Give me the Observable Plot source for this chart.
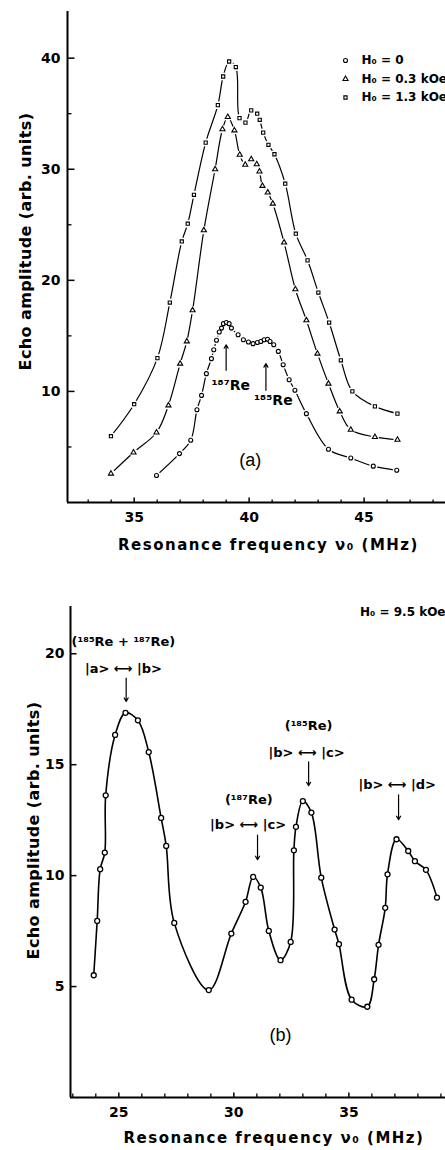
<!DOCTYPE html>
<html><head><meta charset="utf-8">
<script src="https://cdn.jsdelivr.net/npm/d3@7"></script>
<script src="https://cdn.jsdelivr.net/npm/@observablehq/plot@0.6"></script>
<style>
body{margin:0;background:#fff;}
#chart svg{display:block;}
</style></head><body><div id="chart"></div>
<script>
// ---------- Panel (a) data ----------
const seriesLabelsA = ["H\u2080 = 0", "H\u2080 = 0.3 kOe", "H\u2080 = 1.3 kOe"];
const seriesSymbolsA = ["circle", "triangle", "square"];

const freqH0 = [35.97,36.97,37.46,37.73,37.93,38.14,38.36,38.46,38.58,38.70,38.80,38.88,39.01,39.13,39.23,39.52,39.75,39.97,40.17,40.36,40.51,40.65,40.80,40.91,41.07,41.27,41.48,41.74,41.99,42.49,43.45,44.42,45.40,46.42];
const ampH0  = [2.43,4.4,5.6,8.35,9.64,11.6,12.95,13.75,14.6,15.35,15.7,16.1,16.2,16.1,15.7,15.1,14.65,14.45,14.3,14.4,14.5,14.65,14.7,14.5,14.2,13.6,12.4,11.05,10.1,8.0,4.8,4.0,3.27,2.9];

const freqH03 = [33.99,34.97,35.97,36.49,37.0,37.29,37.54,38.03,38.52,38.84,39.07,39.36,39.59,39.83,40.09,40.33,40.45,40.58,40.81,41.03,41.52,42.01,42.49,42.97,43.45,43.94,44.42,45.47,46.45];
const ampH03  = [2.6,4.5,6.3,8.74,12.5,14.5,17.3,24.5,30.0,33.6,34.7,33.5,31.3,30.4,30.9,30.45,29.8,28.5,27.9,26.9,23.4,19.2,16.4,13.4,10.7,8.2,6.55,5.9,5.65];

const freqH13 = [33.99,35.0,36.01,36.55,37.07,37.33,37.6,38.11,38.64,38.87,39.13,39.42,39.58,39.84,40.09,40.35,40.46,40.61,40.84,41.1,41.57,42.03,42.54,43.01,43.48,43.99,44.49,45.47,46.45];
const ampH13  = [5.97,8.85,13.0,18.0,23.5,25.1,27.7,32.4,35.77,38.35,39.7,39.2,34.6,34.2,35.3,35.0,34.45,33.3,32.2,31.35,28.7,24.2,21.8,18.9,16.2,12.8,10.0,8.65,8.0];

const xTicksA = [35, 40, 45];
const xMinorA = [33,34,36,37,38,39,41,42,43,44,46,47,48];
const yTicksA = [10, 20, 30, 40];
const yMinorA = [5, 15, 25, 35];

// ---------- Panel (b) data ----------
const freqB = [23.91,24.06,24.19,24.39,24.43,24.84,25.29,25.83,26.30,26.84,27.06,27.41,28.91,29.89,30.51,30.84,31.17,31.52,32.03,32.47,32.61,32.70,33.0,33.37,33.8,34.38,34.57,35.12,35.8,36.1,36.29,36.58,36.68,37.07,37.58,37.87,38.35,38.83];
const ampB  = [5.51,7.96,10.29,11.04,13.62,16.34,17.34,17.0,15.57,12.6,11.34,7.87,4.84,7.39,8.82,9.94,9.46,7.51,6.19,7.01,11.14,12.2,13.36,12.84,9.91,7.57,6.91,4.41,4.09,5.33,6.88,8.55,10.06,11.64,11.11,10.65,10.26,9.01];

const xTicksB = [25, 30, 35];
const xMinorB = [23,24,26,27,28,29,31,32,33,34,36,37,38,39];
const yTicksB = [5, 10, 15, 20];

// ---------- build rows ----------
const rowsA = [
  ...freqH0.map((f,i)=>({f, a: ampH0[i], s: seriesLabelsA[0]})),
  ...freqH03.map((f,i)=>({f, a: ampH03[i], s: seriesLabelsA[1]})),
  ...freqH13.map((f,i)=>({f, a: ampH13[i], s: seriesLabelsA[2]}))
];
const rowsB = freqB.map((f,i)=>({f, a: ampB[i]}));

// inward tick glyphs (drawn as custom dot symbols)
const tickUp = (len) => ({draw(ctx){ ctx.moveTo(0, 0); ctx.lineTo(0, -len); }});
const tickRight = (len) => ({draw(ctx){ ctx.moveTo(0, 0); ctx.lineTo(len, 0); }});

const FONT = "DejaVu Sans";
const baseStyle = {fontFamily: FONT, fontSize: "14px", fontWeight: "bold", color: "#000", background: "#fff", overflow: "visible"};
const yTitle = "Echo amplitude (arb. units)";
const xTitle = "Resonance frequency \u03bd\u2080 (MHz)";
const markerR = [2.0, 1.9, 1.8];

const xDomA = [32.1, 48.54];
const plotA = Plot.plot({
  width: 445, height: 590,
  marginLeft: 67, marginRight: 0, marginTop: 11, marginBottom: 88,
  style: baseStyle,
  x: {domain: xDomA},
  y: {domain: [0, 44.2]},
  symbol: {domain: seriesLabelsA, range: seriesSymbolsA},
  marks: [
    Plot.axisX(xTicksA, {tickSize: 0, tickPadding: 10, label: null}),
    Plot.axisY(yTicksA, {tickSize: 0, tickPadding: 7, label: null}),
    Plot.dot(xTicksA, {x: d => d, frameAnchor: "bottom", symbol: tickUp(5), stroke: "#000", strokeWidth: 1.5}),
    Plot.dot(xMinorA, {x: d => d, frameAnchor: "bottom", symbol: tickUp(3), stroke: "#000", strokeWidth: 1.3}),
    Plot.dot(yTicksA, {y: d => d, frameAnchor: "left", symbol: tickRight(7), stroke: "#000", strokeWidth: 1.5}),
    Plot.dot(yMinorA, {y: d => d, frameAnchor: "left", symbol: tickRight(4), stroke: "#000", strokeWidth: 1.3}),
    Plot.ruleX([xDomA[0]], {strokeWidth: 2}),
    Plot.ruleY([0], {strokeWidth: 2}),
    Plot.line(rowsA, {x: "f", y: "a", z: "s", curve: "catmull-rom", stroke: "#000", strokeWidth: 1.2}),
    Plot.dot(rowsA, {x: "f", y: "a", r: 4.0, fill: "#fff", stroke: null}),
    ...seriesLabelsA.map((lab, k) => Plot.dot(rowsA.filter(d => d.s === lab), {x: "f", y: "a", symbol: "s", r: markerR[k], fill: "#fff", stroke: "#000", strokeWidth: 1.1})),
    // legend
    ...seriesLabelsA.map((lab, i) => Plot.dot([lab], {frameAnchor: "top-right", dx: -100, dy: 49 + i*18.5, symbol: d => d, r: markerR[i], fill: "#fff", stroke: "#000", strokeWidth: 1.1})),
    ...seriesLabelsA.map((lab, i) => Plot.text([lab], {frameAnchor: "top-right", dx: -84, dy: 49 + i*18.5, text: d => d, textAnchor: "start", lineAnchor: "middle", fontSize: 12, fontWeight: "bold"})),
    // isotope annotations
    Plot.arrow([{x1: 39.0, y1: 11.9, x2: 39.0, y2: 14.2}, {x1: 40.73, y1: 10.1, x2: 40.73, y2: 12.5}], {x1: "x1", y1: "y1", x2: "x2", y2: "y2", headLength: 5, strokeWidth: 1.2}),
    Plot.text([{t: "\u00b9\u2078\u2077Re", x: 39.2, y: 10.5}, {t: "\u00b9\u2078\u2075Re", x: 41.05, y: 9.2}], {x: "x", y: "y", text: "t", fontSize: 14, fontWeight: "bold"}),
    Plot.text(["(a)"], {x: 40.05, y: 3.8, text: d => d, fontSize: 18, fontWeight: "normal", fontFamily: "Liberation Sans"}),
    // titles
    Plot.text([yTitle], {frameAnchor: "left", dx: -42, dy: -15.5, rotate: -90, textAnchor: "middle", lineAnchor: "middle", text: d => d, fontSize: 16, fontWeight: "bold"}),
    Plot.text([xTitle], {frameAnchor: "bottom", dx: 12, dy: 43, textAnchor: "middle", lineAnchor: "middle", text: d => d, fontSize: 15, fontWeight: "bold"})
  ]
});

const xDomB = [22.9, 39.2];
const plotB = Plot.plot({
  width: 445, height: 560,
  marginLeft: 70, marginRight: 0, marginTop: 16, marginBottom: 53,
  style: baseStyle,
  x: {domain: xDomB},
  y: {domain: [0, 22.13]},
  marks: [
    Plot.axisX(xTicksB, {tickSize: 0, tickPadding: 10, label: null}),
    Plot.axisY(yTicksB, {tickSize: 0, tickPadding: 6, label: null}),
    Plot.dot(xTicksB, {x: d => d, frameAnchor: "bottom", symbol: tickUp(5), stroke: "#000", strokeWidth: 1.5}),
    Plot.dot(xMinorB, {x: d => d, frameAnchor: "bottom", symbol: tickUp(4), stroke: "#000", strokeWidth: 1.3}),
    Plot.dot(yTicksB, {y: d => d, frameAnchor: "left", symbol: tickRight(6), stroke: "#000", strokeWidth: 1.5}),
    Plot.ruleX([xDomB[0]], {strokeWidth: 2}),
    Plot.ruleY([0], {strokeWidth: 2}),
    Plot.line(rowsB, {x: "f", y: "a", curve: "catmull-rom", stroke: "#000", strokeWidth: 1.6}),
    Plot.dot(rowsB, {x: "f", y: "a", r: 2.5, fill: "#fff", stroke: "#000", strokeWidth: 1.3}),
    Plot.text(["H\u2080 = 9.5 kOe"], {frameAnchor: "top-right", dx: 0, dy: 6, text: d => d, textAnchor: "end", lineAnchor: "middle", fontSize: 12, fontWeight: "bold"}),
    Plot.text([
      {t: "(\u00b9\u2078\u2075Re + \u00b9\u2078\u2077Re)", x: 25.2, y: 20.55},
      {t: "|a> \u27f7 |b>", x: 25.2, y: 19.3},
      {t: "(\u00b9\u2078\u2075Re)", x: 33.25, y: 16.75},
      {t: "|b> \u27f7 |c>", x: 33.16, y: 15.53},
      {t: "(\u00b9\u2078\u2077Re)", x: 30.65, y: 13.41},
      {t: "|b> \u27f7 |c>", x: 30.62, y: 12.29},
      {t: "|b> \u27f7 |d>", x: 37.1, y: 14.09}
    ], {x: "x", y: "y", text: "t", fontSize: 13, fontWeight: "bold"}),
    Plot.arrow([
      {x: 25.32, y1: 18.9, y2: 17.85},
      {x: 33.25, y1: 15.13, y2: 14.05},
      {x: 31.03, y1: 11.83, y2: 10.72},
      {x: 37.16, y1: 13.64, y2: 12.52}
    ], {x1: "x", x2: "x", y1: "y1", y2: "y2", headLength: 5, strokeWidth: 1.2}),
    Plot.text(["(b)"], {x: 32.03, y: 2.82, text: d => d, fontSize: 18, fontWeight: "normal", fontFamily: "Liberation Sans"}),
    Plot.text([yTitle], {frameAnchor: "left", dx: -37, dy: -21.5, rotate: -90, textAnchor: "middle", lineAnchor: "middle", text: d => d, fontSize: 16, fontWeight: "bold"}),
    Plot.text([xTitle], {frameAnchor: "bottom", dx: 16, dy: 41, textAnchor: "middle", lineAnchor: "middle", text: d => d, fontSize: 15, fontWeight: "bold"})
  ]
});

const root = document.getElementById("chart");
root.append(plotA, plotB);
// widen the spaced-out axis titles as in the original typesetting
d3.select(root).selectAll("text").filter(function () { return this.textContent === xTitle; }).style("letter-spacing", "1.5px");
d3.select(root).selectAll("text").filter(function () { return this.textContent === yTitle; }).style("letter-spacing", "0.4px");
</script>
</body></html>
